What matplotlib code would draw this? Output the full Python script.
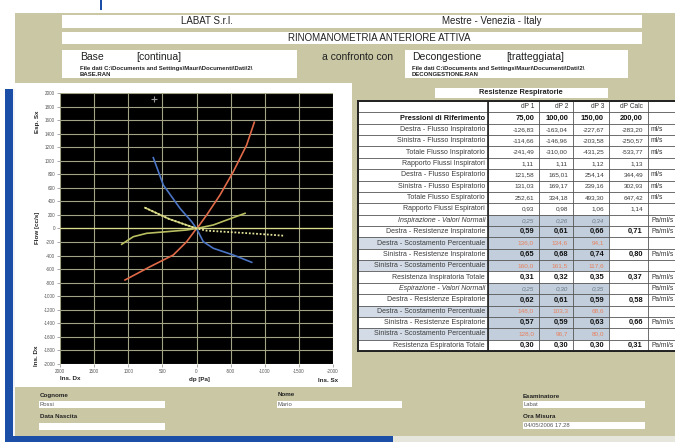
import numpy as np
import matplotlib.pyplot as plt
from matplotlib.patches import Rectangle

plt.rcParams['font.family'] = ['Liberation Sans', 'DejaVu Sans']
plt.rcParams['axes.unicode_minus'] = False

W, H = 675, 442
KHAKI = '#cac7a5'
BLUE = '#1b4ea6'

# curves: dp [Pa] vs flow [cc/s]
red_dp = [1048, 681, 340, 144, 0, -26, -149, -344, -539, -735, -847]
red_flow = [-760, -564, -391, -195, 0, 27, 199, 494, 838, 1233, 1568]
blue_dp = [633, 486, 242, 70, 0, -100, -246, -539, -809]
blue_flow = [1045, 642, 298, 100, 0, -195, -292, -391, -499]
yel_dp = [1096, 926, 730, 437, 144, 0, -246, -442, -711]
yel_flow = [-233, -121, -71, -47, -22, 0, 52, 125, 224]
dot_dp = [755, 400, 0, -149, -539, -930, -1272]
dot_flow = [307, 140, 0, -32, -56, -81, -106]
cursor_dp = [623]
cursor_flow = [1911]

x_ticks = [2000, 1500, 1000, 500, 0, -500, -1000, -1500, -2000]
y_ticks = list(range(2000, -2001, -200))

# table
col_heads = ['dP 1', 'dP 2', 'dP 3', 'dP Calc']
row_labels = ['Pressioni di Riferimento',
              'Destra - Flusso Inspiratorio', 'Sinistra - Flusso Inspiratorio',
              'Totale Flusso Inspiratorio', 'Rapporto Flussi Inspiratori',
              'Destra - Flusso Espiratorio', 'Sinistra - Flusso Espiratorio',
              'Totale Flusso Espiratorio', 'Rapporto Flussi Espiratori',
              'Inspirazione - Valori Normali', 'Destra - Resistenze Inspiratorie',
              'Destra - Scostamento Percentuale', 'Sinistra - Resistenze Inspiratorie',
              'Sinistra - Scostamento Percentuale', 'Resistenza Inspiratoria Totale',
              'Espirazione - Valori Normali', 'Destra - Resistenze Espiratorie',
              'Destra - Scostamento Percentuale', 'Sinistra - Resistenze Espiratorie',
              'Sinistra - Scostamento Percentuale', 'Resistenza Espiratoria Totale']
row_values = [['75,00', '100,00', '150,00', '200,00'],
              ['-126,83', '-163,04', '-227,67', '-283,20'],
              ['-114,66', '-146,96', '-203,58', '-250,57'],
              ['-241,49', '-310,00', '-431,25', '-533,77'],
              ['1,11', '1,11', '1,12', '1,13'],
              ['121,58', '165,01', '254,14', '344,49'],
              ['131,03', '169,17', '239,16', '302,93'],
              ['252,61', '334,18', '493,30', '647,42'],
              ['0,93', '0,98', '1,06', '1,14'],
              ['0,25', '0,26', '0,34', ''],
              ['0,59', '0,61', '0,66', '0,71'],
              ['136,0', '134,6', '94,1', ''],
              ['0,65', '0,68', '0,74', '0,80'],
              ['160,0', '161,5', '117,6', ''],
              ['0,31', '0,32', '0,35', '0,37'],
              ['0,25', '0,30', '0,35', ''],
              ['0,62', '0,61', '0,59', '0,58'],
              ['148,0', '103,3', '68,6', ''],
              ['0,57', '0,59', '0,63', '0,66'],
              ['128,0', '96,7', '80,0', ''],
              ['0,30', '0,30', '0,30', '0,31']]
row_units = ['', 'ml/s', 'ml/s', 'ml/s', '', 'ml/s', 'ml/s', 'ml/s', '',
             'Pa/ml/s', 'Pa/ml/s', '', 'Pa/ml/s', '', 'Pa/ml/s',
             'Pa/ml/s', 'Pa/ml/s', '', 'Pa/ml/s', '', 'Pa/ml/s']

fig = plt.figure(figsize=(W / 100, H / 100), dpi=100)
fig.patch.set_facecolor('white')
ov = fig.add_axes([0, 0, 1, 1], zorder=0)
ov.set_xlim(0, W)
ov.set_ylim(H, 0)
ov.axis('off')


def box(x, y, w, h, fc, ec='none', lw=0, z=1):
    ov.add_patch(Rectangle((x, y), w, h, facecolor=fc, edgecolor=ec, linewidth=lw, zorder=z))


def txt(x, y, s, size=5, **kw):
    kw.setdefault('va', 'center')
    kw.setdefault('color', '#222222')
    ov.text(x, y, s, fontsize=size, zorder=5, **kw)


# background + frames
box(15, 13, W - 15, H - 13, KHAKI)
box(100, 0, 2, 10, BLUE)
box(14, 83, 338, 304, 'white')
box(5, 89, 8, H - 89, BLUE)
box(5, 436, 388, 6, BLUE)
box(393, 436, W - 393, 6, '#e6e6dc')
box(13, 89, 1.5, 347, '#f2f4f8')

# header
box(62, 15, 580, 13, 'white')
box(62, 32, 580, 12, 'white')
box(62, 50, 235, 28, 'white')
box(405, 50, 223, 28, 'white')
txt(207, 21.5, 'LABAT S.r.l.', 7, ha='center')
txt(492, 21.5, 'Mestre - Venezia - Italy', 7, ha='center')
txt(379, 38, 'RINOMANOMETRIA ANTERIORE ATTIVA', 7, ha='center')
txt(80, 57, 'Base', 7.5)
txt(136, 57, '[continua]', 7.5)
txt(322, 57, 'a confronto con', 7.5)
txt(412, 57, 'Decongestione', 7.5)
txt(506, 57, '[tratteggiata]', 7.5)
txt(80, 68.5, 'File dati C:\\Documents and Settings\\Mauri\\Documenti\\Dati\\2\\', 4.3, weight='bold')
txt(80, 74, 'BASE.RAN', 4.3, weight='bold')
txt(412, 68.5, 'File dati C:\\Documents and Settings\\Mauri\\Documenti\\Dati\\2\\', 4.3, weight='bold')
txt(412, 74, 'DECONGESTIONE.RAN', 4.3, weight='bold')

# chart
ax = fig.add_axes([60 / W, 1 - 364 / H, 273 / W, 271 / H], zorder=2)
ax.set_facecolor('black')
ax.set_xlim(2000, -2000)
ax.set_ylim(-2000, 2000)
ax.set_xticks(x_ticks)
ax.set_xticklabels([str(v) for v in x_ticks])
ax.set_yticks(y_ticks)
ax.set_yticklabels([str(v) for v in y_ticks])
ax.grid(True, color='#a3a386', lw=0.8)
ax.axhline(0, color='#dada8c', lw=0.9)
for s in ax.spines.values():
    s.set_visible(False)
ax.tick_params(labelsize=3.3, colors='#888888', labelcolor='#555555', length=2, width=0.5, pad=1.5)

ax.plot(red_dp, red_flow, color='#e06a48', lw=1.2)
ax.plot(blue_dp, blue_flow, color='#4a74c4', lw=1.2)
ax.plot(yel_dp, yel_flow, color='#b9bf60', lw=1.2)
ax.plot(dot_dp[:3], dot_flow[:3], color='#c4c46c', lw=1.2)
ax.plot(dot_dp, dot_flow, color='#e4e49a', lw=1.3, ls=(0, (1, 1)))
ax.plot(cursor_dp, cursor_flow, marker='+', color='#999999', ms=5, mew=0.8, ls='none', clip_on=False)

txt(38, 122, 'Esp. Sx', 4.5, rotation=90, ha='center', weight='bold')
txt(38, 228, 'Flow [cc/s]', 4.5, rotation=90, ha='center', weight='bold')
txt(37, 356, 'Ins. Dx', 4.5, rotation=90, ha='center', weight='bold')
txt(70, 379, 'Ins. Dx', 4.5, ha='center', weight='bold')
txt(199, 379, 'dp [Pa]', 4.5, ha='center', weight='bold')
txt(328, 380, 'Ins. Sx', 4.5, ha='center', weight='bold')

# table
box(435, 88, 173, 10, 'white')
txt(521, 93, 'Resistenze Respiratorie', 5.3, ha='center', weight='bold')
col_edges = [358, 488, 539, 573, 609, 648, 700]
top = 101
rh = (351 - top) / (len(row_labels) + 1)

box(358, top, 342, 351 - top, 'white', z=1)
for j, h in enumerate(col_heads):
    txt(col_edges[j + 2] - 5, top + rh / 2, h, 4.8, ha='right', color='#333333')
for i, lab in enumerate(row_labels):
    y0 = top + rh * (i + 1)
    yc = y0 + rh / 2
    bold = ('Resisten' in lab) or i == 0
    scost = 'Scostamento' in lab
    normal = 'Normali' in lab
    if i >= 9:
        if scost:
            box(358, y0, col_edges[1] - 358, rh, '#d3dce6', z=2)
        if 'Totale' not in lab:
            box(col_edges[1], y0, col_edges[4] - col_edges[1], rh, '#c2cedb', z=2)
    txt(485, yc, lab, 5.3 if i == 0 else 5.0, ha='right', color='#111111' if i == 0 else '#3c3c3c',
        weight='bold' if i == 0 else 'normal', style='italic' if normal else 'normal')
    for j, v in enumerate(row_values[i]):
        if scost:
            c = '#e8805e'
        elif normal:
            c = '#6c7a88'
        else:
            c = '#111111' if bold else '#3a3a3a'
        txt(col_edges[j + 2] - 5, yc, v, 5.4 if bold else 4.6, ha='right', color=c,
            weight='bold' if bold else 'normal', style='italic' if normal else 'normal')
    txt(651, yc, row_units[i], 4.8, color='#333333')

for k in range(len(row_labels) + 2):
    y = top + rh * k
    ov.plot([358, 700], [y, y], color='#555555', lw=0.6, zorder=3)
for xe in col_edges[:-1]:
    ov.plot([xe, xe], [top, 351], color='#555555', lw=0.6, zorder=3)
ov.plot([358, 700], [top, top], color='#222222', lw=1.4, zorder=4)
ov.plot([358, 700], [351, 351], color='#222222', lw=1.4, zorder=4)
ov.plot([358, 358], [top, 351], color='#222222', lw=1.4, zorder=4)
ov.plot([488, 488], [top, 351], color='#222222', lw=1.2, zorder=4)

# patient fields
box(39, 401, 126, 7, 'white')
box(39, 423, 126, 7, 'white')
box(277, 401, 125, 7, 'white')
box(523, 401, 122, 7, 'white')
box(523, 422, 122, 7, 'white')
txt(40, 395, 'Cognome', 4.5, weight='bold')
txt(40, 404.5, 'Rossi', 4.2, color='#555555')
txt(40, 416, 'Data Nascita', 4.5, weight='bold')
txt(278, 394, 'Nome', 4.5, weight='bold')
txt(278, 404.5, 'Mario', 4.2, color='#555555')
txt(523, 396, 'Esaminatore', 4.5, weight='bold')
txt(524, 404.5, 'Labat', 4.2, color='#555555')
txt(523, 416, 'Ora Misura', 4.5, weight='bold')
txt(524, 425.5, '04/05/2006 17.28', 4.2, color='#555555')

fig.savefig('out.png', dpi=100)
